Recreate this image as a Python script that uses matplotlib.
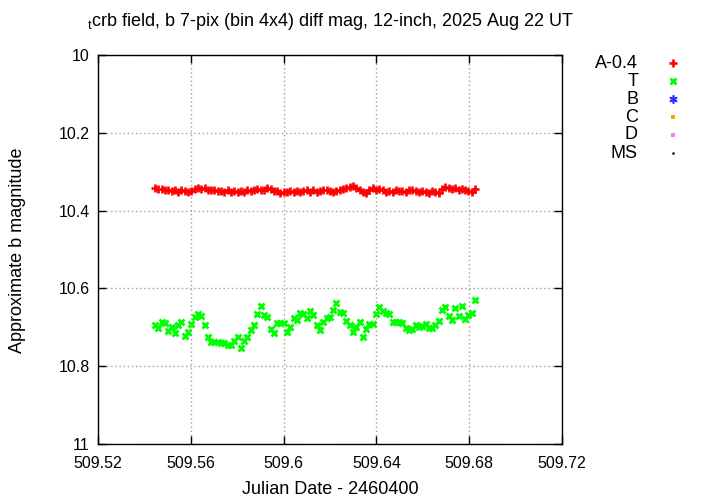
import numpy as np
import matplotlib
matplotlib.use("Agg")
import matplotlib.pyplot as plt
from matplotlib.lines import Line2D
from matplotlib.ticker import FuncFormatter, FixedLocator

plt.rcParams['font.family'] = ['Liberation Sans', 'DejaVu Sans']

# ---- data ----
t_start, t_end = 509.5446, 509.6825

a_mag = [10.343, 10.345, 10.344, 10.348, 10.346, 10.349,
         10.347, 10.351, 10.348, 10.350, 10.352, 10.349,
         10.344, 10.342, 10.345, 10.343,
         10.346, 10.348, 10.347, 10.350, 10.349, 10.351, 10.348, 10.352,
         10.350, 10.353, 10.350, 10.352, 10.348, 10.350,
         10.347, 10.345, 10.348, 10.346, 10.343, 10.345, 10.349,
         10.350, 10.354, 10.351, 10.352, 10.350,
         10.352, 10.350, 10.353, 10.349, 10.347, 10.351, 10.348, 10.352, 10.350,
         10.348, 10.346, 10.350, 10.352, 10.349, 10.347, 10.345, 10.342, 10.339,
         10.336, 10.341, 10.346, 10.351, 10.355,
         10.346, 10.342, 10.346, 10.344, 10.348,
         10.353, 10.350, 10.352, 10.348, 10.350, 10.349, 10.351, 10.347,
         10.348, 10.350, 10.352, 10.349, 10.351, 10.354,
         10.350, 10.353, 10.356,
         10.345, 10.340, 10.342, 10.344, 10.341,
         10.346, 10.344, 10.347, 10.350, 10.352, 10.344]

t_mag = [10.694, 10.703, 10.687, 10.690, 10.709, 10.700, 10.714, 10.694, 10.687, 10.722,
         10.713, 10.692, 10.673, 10.667, 10.670, 10.695, 10.724, 10.737, 10.739, 10.739,
         10.740, 10.741, 10.746,
         10.746, 10.734, 10.724, 10.754, 10.734, 10.724, 10.707, 10.694, 10.666, 10.645,
         10.668, 10.674, 10.705, 10.714, 10.688, 10.688, 10.690, 10.711, 10.700, 10.677,
         10.681, 10.663, 10.666, 10.675, 10.657, 10.668, 10.694,
         10.707, 10.686, 10.677, 10.673, 10.656, 10.638, 10.660, 10.663, 10.683, 10.694,
         10.711, 10.699, 10.687, 10.726, 10.705, 10.692, 10.692, 10.666, 10.649, 10.657,
         10.664, 10.666, 10.687, 10.687, 10.687,
         10.690, 10.703, 10.707, 10.705, 10.694, 10.700, 10.697, 10.692, 10.703, 10.703,
         10.694, 10.684, 10.656, 10.649, 10.671, 10.681, 10.651, 10.671, 10.645, 10.679,
         10.668, 10.663, 10.630]

x_ticks = [509.52, 509.56, 509.60, 509.64, 509.68, 509.72]
y_ticks = [10.0, 10.2, 10.4, 10.6, 10.8, 11.0]
legend_labels = ["A-0.4", "T", "B", "C", "D", "MS"]

title = r"$_{\mathregular{t}}$crb field, b 7-pix (bin 4x4) diff mag, 12-inch, 2025 Aug 22 UT"

# ---- figure ----
W, H = 720, 504
fig = plt.figure(figsize=(7.2, 5.04), dpi=100)
L, R, T, B = 98, 562, 55, 444
ax = fig.add_axes([L / W, 1 - B / H, (R - L) / W, (B - T) / H])

ta = np.linspace(t_start, t_end, len(a_mag))
tt = np.linspace(t_start, t_end, len(t_mag))

ax.plot(ta, a_mag, linestyle='none', marker='+', color='#ff0000', ms=5.5, mew=1.9)
ax.plot(tt, t_mag, linestyle='none', marker='x', color='#00ff00', ms=4.3, mew=2.0)

ax.set_xlim(x_ticks[0], x_ticks[-1])
ax.set_ylim(y_ticks[-1], y_ticks[0])
ax.xaxis.set_major_locator(FixedLocator(x_ticks))
ax.yaxis.set_major_locator(FixedLocator(y_ticks))
fmt = FuncFormatter(lambda v, p: "%g" % round(v, 4))
ax.xaxis.set_major_formatter(fmt)
ax.yaxis.set_major_formatter(fmt)
ax.tick_params(direction='in', length=6, width=1, top=True, right=True,
               labelsize=11.5, colors='black')
ax.tick_params(axis='x', pad=9)
ax.tick_params(axis='y', pad=6)
for s in ax.spines.values():
    s.set_linewidth(1)
    s.set_color('black')
ax.grid(True, color='#a0a0a0', linestyle=(0, (1, 2)), linewidth=1)
ax.set_axisbelow(True)

fig.text((L + R) / 2 / W, 1 - 490 / H, "Julian Date - 2460400", ha='center', va='center', fontsize=13)
fig.text(18 / W, 1 - 250 / H, "Approximate b magnitude", ha='center', va='center',
         rotation=90, fontsize=13)
fig.text((L + R) / 2 / W, 1 - 22 / H, title, ha='center', va='center', fontsize=13)

# legend (gnuplot style, outside right)
leg_markers = [dict(marker='+', color='#ff0000', ms=5.5, mew=1.9),
               dict(marker='x', color='#00ff00', ms=4.3, mew=2.0),
               dict(marker=(6, 2, 0), color='#3030ff', ms=6, mew=1.2),
               dict(marker='s', color='#ffa500', ms=2.5, mew=0),
               dict(marker='s', color='#ee82ee', ms=3, mew=0),
               dict(marker='o', color='black', ms=1.8, mew=0)]
leg_y = [63, 81, 99, 117, 135, 153]
for lab, y, mk in zip(legend_labels, leg_y, leg_markers):
    fig.text(638 / W, 1 - y / H, lab, ha='right', va='center', fontsize=13)
    fig.add_artist(Line2D([673 / W], [1 - y / H], transform=fig.transFigure,
                          linestyle='none', **mk))

fig.savefig("out.png", dpi=100)
